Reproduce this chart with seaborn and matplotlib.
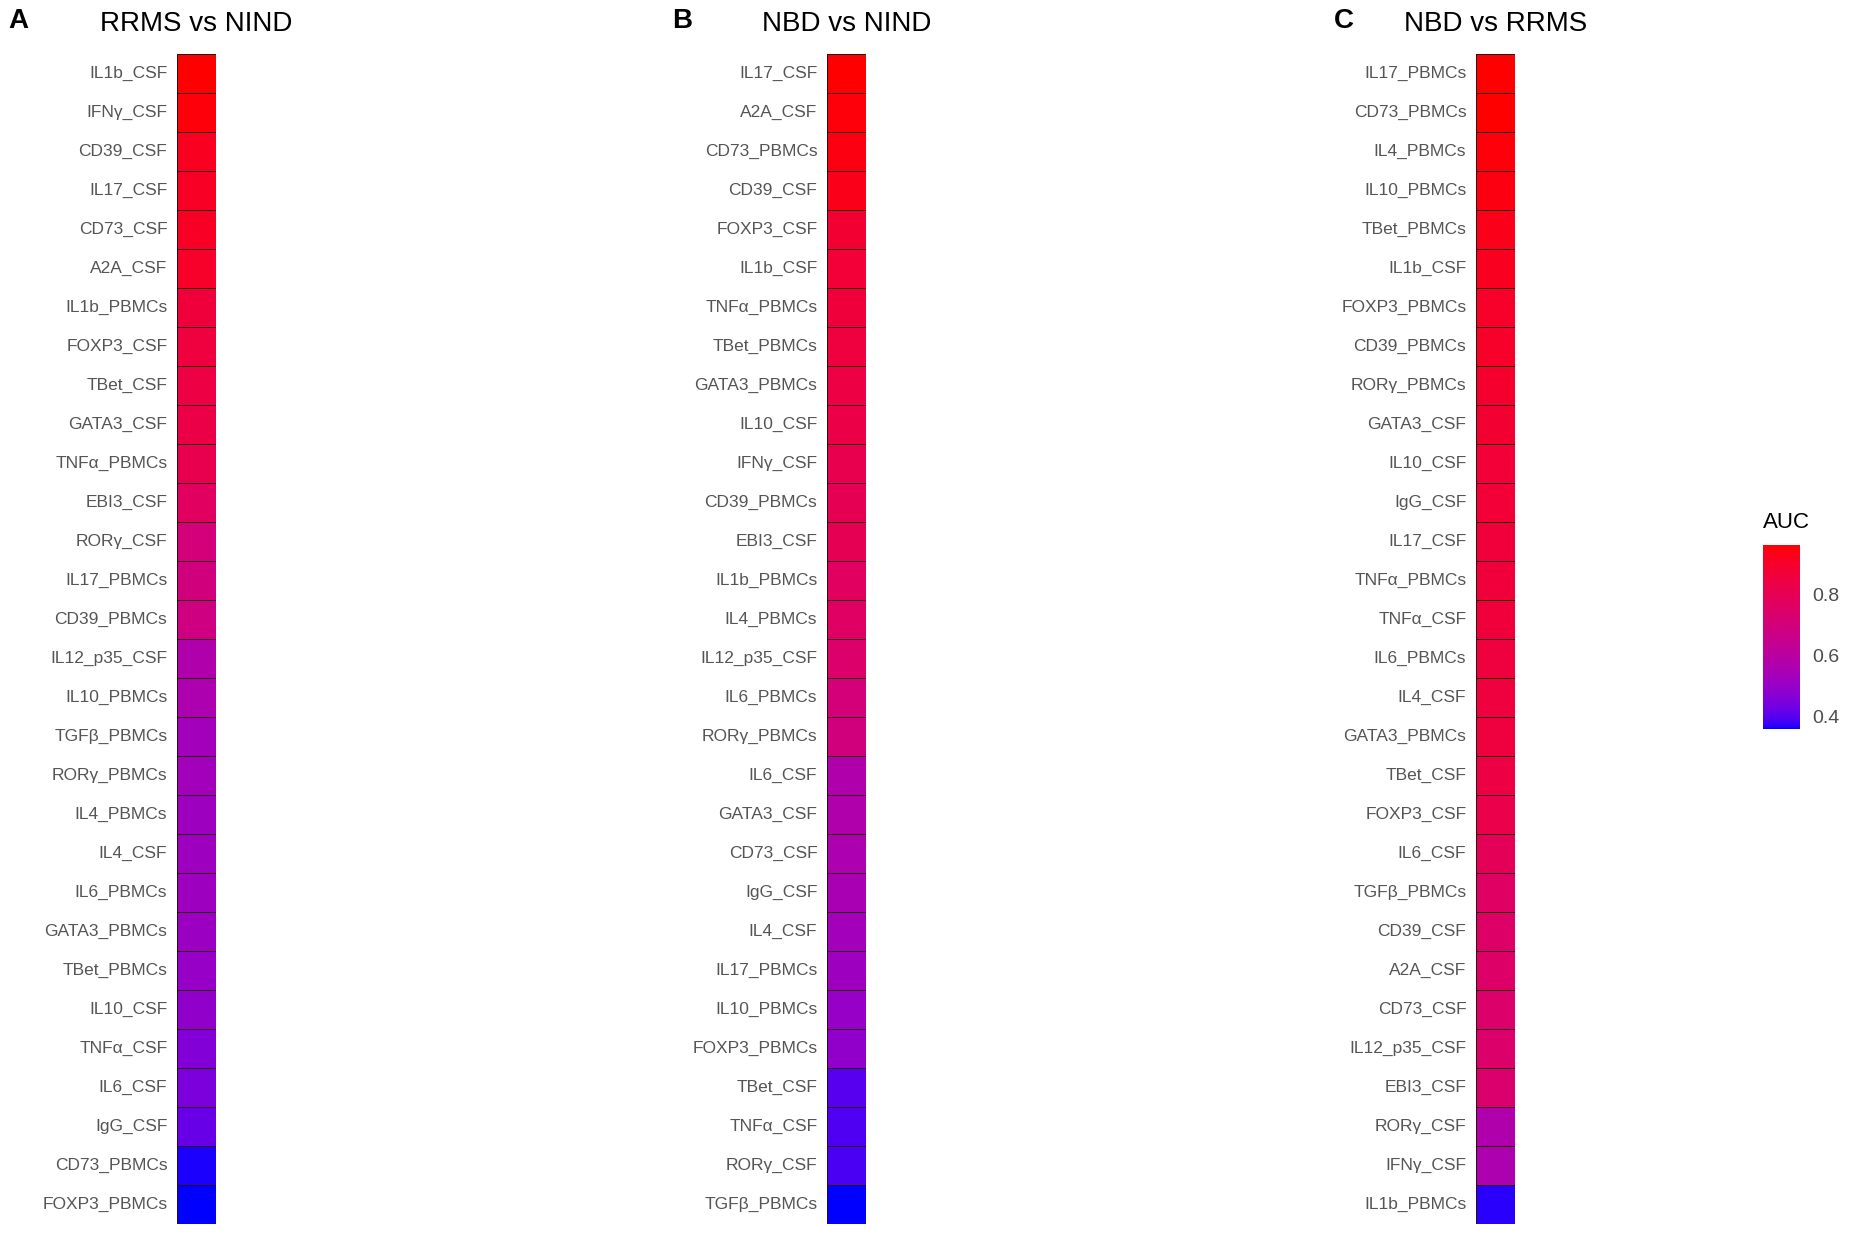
import numpy as np
import pandas as pd
import matplotlib
matplotlib.use("Agg")
import matplotlib.pyplot as plt
import seaborn as sns
from matplotlib.colors import ListedColormap

# ---------------- data ----------------
labels_a = ["IL1b_CSF", "IFNγ_CSF", "CD39_CSF", "IL17_CSF", "CD73_CSF", "A2A_CSF",
            "IL1b_PBMCs", "FOXP3_CSF", "TBet_CSF", "GATA3_CSF", "TNFα_PBMCs", "EBI3_CSF",
            "RORγ_CSF", "IL17_PBMCs", "CD39_PBMCs", "IL12_p35_CSF", "IL10_PBMCs",
            "TGFβ_PBMCs", "RORγ_PBMCs", "IL4_PBMCs", "IL4_CSF", "IL6_PBMCs",
            "GATA3_PBMCs", "TBet_PBMCs", "IL10_CSF", "TNFα_CSF", "IL6_CSF", "IgG_CSF",
            "CD73_PBMCs", "FOXP3_PBMCs"]
auc_a = [0.96, 0.95, 0.92, 0.91, 0.91, 0.90, 0.86, 0.85, 0.84, 0.83, 0.81, 0.77,
         0.70, 0.69, 0.68, 0.57, 0.56, 0.53, 0.53, 0.52, 0.52, 0.52, 0.51, 0.50,
         0.49, 0.46, 0.45, 0.42, 0.365, 0.36]

labels_b = ["IL17_CSF", "A2A_CSF", "CD73_PBMCs", "CD39_CSF", "FOXP3_CSF", "IL1b_CSF",
            "TNFα_PBMCs", "TBet_PBMCs", "GATA3_PBMCs", "IL10_CSF", "IFNγ_CSF",
            "CD39_PBMCs", "EBI3_CSF", "IL1b_PBMCs", "IL4_PBMCs", "IL12_p35_CSF",
            "IL6_PBMCs", "RORγ_PBMCs", "IL6_CSF", "GATA3_CSF", "CD73_CSF", "IgG_CSF",
            "IL4_CSF", "IL17_PBMCs", "IL10_PBMCs", "FOXP3_PBMCs", "TBet_CSF",
            "TNFα_CSF", "RORγ_CSF", "TGFβ_PBMCs"]
auc_b = [0.96, 0.95, 0.94, 0.93, 0.88, 0.87, 0.86, 0.85, 0.84, 0.83, 0.81, 0.80,
         0.80, 0.77, 0.76, 0.74, 0.70, 0.69, 0.57, 0.57, 0.56, 0.55, 0.53, 0.52,
         0.50, 0.49, 0.40, 0.395, 0.39, 0.36]

labels_c = ["IL17_PBMCs", "CD73_PBMCs", "IL4_PBMCs", "IL10_PBMCs", "TBet_PBMCs",
            "IL1b_CSF", "FOXP3_PBMCs", "CD39_PBMCs", "RORγ_PBMCs", "GATA3_CSF",
            "IL10_CSF", "IgG_CSF", "IL17_CSF", "TNFα_PBMCs", "TNFα_CSF", "IL6_PBMCs",
            "IL4_CSF", "GATA3_PBMCs", "TBet_CSF", "FOXP3_CSF", "IL6_CSF", "TGFβ_PBMCs",
            "CD39_CSF", "A2A_CSF", "CD73_CSF", "IL12_p35_CSF", "EBI3_CSF", "RORγ_CSF",
            "IFNγ_CSF", "IL1b_PBMCs"]
auc_c = [0.96, 0.96, 0.95, 0.94, 0.93, 0.92, 0.90, 0.90, 0.89, 0.88, 0.87, 0.87,
         0.86, 0.86, 0.86, 0.85, 0.85, 0.85, 0.84, 0.82, 0.79, 0.76, 0.75, 0.75,
         0.74, 0.74, 0.73, 0.57, 0.56, 0.37]

titles = ["RRMS vs NIND", "NBD vs NIND", "NBD vs RRMS"]
letters = ["A", "B", "C"]
cbar_ticks = [0.4, 0.6, 0.8]
vmin, vmax = 0.36, 0.96

# ---------------- colormap: blue -> red interpolated in Lab ----------------
def srgb_to_lab(rgb):
    rgb = np.asarray(rgb, float)
    lin = np.where(rgb <= 0.04045, rgb / 12.92, ((rgb + 0.055) / 1.055) ** 2.4)
    M = np.array([[0.4124, 0.3576, 0.1805],
                  [0.2126, 0.7152, 0.0722],
                  [0.0193, 0.1192, 0.9505]])
    xyz = M @ lin
    wp = np.array([0.95047, 1.0, 1.08883])
    t = xyz / wp
    f = np.where(t > (6 / 29) ** 3, np.cbrt(t), t / (3 * (6 / 29) ** 2) + 4 / 29)
    return np.array([116 * f[1] - 16, 500 * (f[0] - f[1]), 200 * (f[1] - f[2])])

def lab_to_srgb(lab):
    L, a, b = lab
    fy = (L + 16) / 116
    fx = fy + a / 500
    fz = fy - b / 200
    f = np.array([fx, fy, fz])
    t = np.where(f > 6 / 29, f ** 3, 3 * (6 / 29) ** 2 * (f - 4 / 29))
    xyz = t * np.array([0.95047, 1.0, 1.08883])
    Minv = np.array([[3.2406, -1.5372, -0.4986],
                     [-0.9689, 1.8758, 0.0415],
                     [0.0557, -0.2040, 1.0570]])
    lin = np.clip(Minv @ xyz, 0, 1)
    rgb = np.where(lin <= 0.0031308, 12.92 * lin, 1.055 * lin ** (1 / 2.4) - 0.055)
    return np.clip(rgb, 0, 1)

lab_lo = srgb_to_lab([0, 0, 1])
lab_hi = srgb_to_lab([1, 0, 0])
cols = [lab_to_srgb(lab_lo + (lab_hi - lab_lo) * s) for s in np.linspace(0, 1, 256)]
cmap = ListedColormap(cols)

# ---------------- figure ----------------
sns.set_theme(style="white")
plt.rcParams["font.family"] = ["Liberation Sans", "DejaVu Sans"]

W, H = 1850, 1239
fig = plt.figure(figsize=(W / 100, H / 100), dpi=100)

def px_axes(x0, y0, x1, y1):
    return fig.add_axes([x0 / W, 1 - y1 / H, (x1 - x0) / W, (y1 - y0) / H])

cell = 39
top = 54
xs = [177, 827, 1476]
cax = px_axes(1763, 545, 1800, 729)

panels = [(labels_a, auc_a), (labels_b, auc_b), (labels_c, auc_c)]
for i, ((labs, vals), x0) in enumerate(zip(panels, xs)):
    ax = px_axes(x0, top, x0 + cell, top + cell * len(labs))
    df = pd.DataFrame({"AUC": vals}, index=labs)
    sns.heatmap(df, ax=ax, cmap=cmap, vmin=vmin, vmax=vmax,
                cbar=(i == 2), cbar_ax=cax if i == 2 else None,
                linewidths=0.6, linecolor="#2a1010", square=False)
    ax.set_xticks([])
    ax.set_xlabel("")
    ax.set_ylabel("")
    ax.tick_params(axis="y", length=0, pad=7, labelsize=12.5, labelcolor="#555555")
    ax.set_yticklabels(labs, rotation=0)
    fig.text((x0 + cell / 2) / W, 1 - 24 / H, titles[i], ha="center", va="center",
             fontsize=20, color="black")

letter_x = [8, 672, 1334]
for lx, lt in zip(letter_x, letters):
    fig.text(lx / W, 1 - 21 / H, lt, ha="left", va="center", fontsize=20,
             fontweight="bold", color="black")

cax.set_yticks(cbar_ticks)
cax.tick_params(axis="y", left=True, right=True, direction="in", color="white",
                length=5, width=1, labelsize=14, labelcolor="#4D4D4D", pad=9)
for s in cax.spines.values():
    s.set_visible(False)
fig.text(1763 / W, 1 - 523 / H, "AUC", ha="left", va="center", fontsize=16, color="black")

fig.savefig("out.png", dpi=100)
